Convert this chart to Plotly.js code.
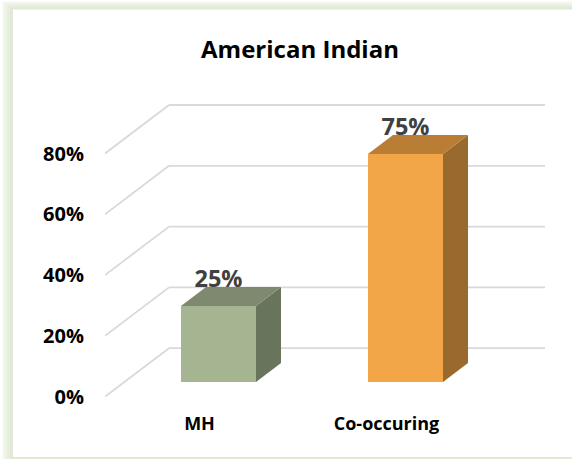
<!DOCTYPE html>
<html><head><meta charset="utf-8">
<script src="https://cdn.plot.ly/plotly-3.0.1.min.js"></script>
<style>html,body{margin:0;padding:0;background:#fff}#c{width:572px;height:459px}</style>
</head><body><div id="c"></div>
<script>
const categories = ['MH', 'Co-occuring'];
const values = [25, 75];
const frontColors = ['#a5b592', '#f3a647'];
const topColors = ['#7e8970', '#b97d36'];
const sideColors = ['#69745c', '#9a692d'];
const yTicks = [0, 20, 40, 60, 80];
const yTickLabels = ['0%', '20%', '40%', '60%', '80%'];
const W = 572, H = 459;
// plot area in pixels
const L = 105, R = 545, T = 100, B = 396.7;
const pxPerUnitY = 3.04, pxPerCat = 187;
const xr = [-(218.5 - L) / pxPerCat, (R - 218.5) / pxPerCat];
const yr = [0, (B - T) / pxPerUnitY];
const barW = 75 / pxPerCat, dx = 25 / pxPerCat, dy = 19 / pxPerUnitY;
const barBase = 14.7 / pxPerUnitY;
const gridDX = 64 / pxPerCat, gridDY = 48.5 / pxPerUnitY;
const traces = [];
// data labels first, so the bar tops overlap their lower edge
traces.push({type: 'scatter', mode: 'text', hoverinfo: 'skip', showlegend: false,
  x: [0, 1], y: values.map(v => barBase + v + 8.2),
  text: values.map(v => v + '%'), textposition: 'middle center',
  textfont: {family: 'Open Sans', size: 23.5, color: '#404040', weight: 700}, cliponaxis: false});
values.forEach((v, i) => {
  const a = i - barW / 2, b = i + barW / 2, y0 = barBase, y1 = barBase + v;
  traces.push({type: 'scatter', mode: 'lines', fill: 'toself', fillcolor: sideColors[i], hoverinfo: 'skip', showlegend: false,
    line: {width: 0, color: sideColors[i]},
    x: [b, b + dx, b + dx, b, b], y: [y0, y0 + dy, y1 + dy, y1, y0]});
  traces.push({type: 'scatter', mode: 'lines', fill: 'toself', fillcolor: topColors[i], hoverinfo: 'skip', showlegend: false,
    line: {width: 0, color: topColors[i]},
    x: [a, a + dx, b + dx, b, a], y: [y1, y1 + dy, y1 + dy, y1, y1]});
});
traces.push({type: 'bar', x: [0, 1], y: values, base: [barBase, barBase], width: barW,
  marker: {color: frontColors, line: {width: 0}}, hoverinfo: 'skip', showlegend: false});
const frame = [[2, 1, '#f7f9f4'], [4, 3, '#eef3e8'], [7, 5, '#e6eedc'], [10, 7, '#dfe9d3']];
const shapes = frame.map(f => ({type: 'rect', xref: 'paper', yref: 'paper', layer: 'below',
  x0: f[0] / W, x1: 1, y0: 0, y1: 1 - f[1] / H, fillcolor: f[2], line: {width: 0}}));
shapes.push({type: 'rect', xref: 'paper', yref: 'paper', layer: 'below', x0: 13 / W, x1: 1, y0: 1 - 457 / H, y1: 1 - 9.5 / H, fillcolor: '#ffffff', line: {width: 0}});
const gridLine = {color: '#d9d9d9', width: 1.8};
yTicks.forEach(t => {
  shapes.push({type: 'line', xref: 'x', yref: 'y', layer: 'below', x0: xr[0], x1: xr[0] + gridDX, y0: t, y1: t + gridDY, line: gridLine});
  shapes.push({type: 'line', xref: 'x', yref: 'y', layer: 'below', x0: xr[0] + gridDX, x1: xr[1], y0: t + gridDY, y1: t + gridDY, line: gridLine});
});
const layout = {
  width: W, height: H, margin: {l: 0, r: 0, t: 0, b: 0}, paper_bgcolor: '#fff', plot_bgcolor: 'rgba(0,0,0,0)',
  showlegend: false, barmode: 'overlay',
  title: {text: 'American Indian', x: 300 / W, xanchor: 'center', y: 1 - 50 / H, yanchor: 'middle',
    font: {family: 'Open Sans', size: 24, color: '#000', weight: 700}},
  xaxis: {domain: [L / W, R / W], range: xr, showgrid: false, zeroline: false, showline: false,
    tickmode: 'array', tickvals: [-19 / pxPerCat, 1 - 19 / pxPerCat], ticktext: categories, ticks: '',
    ticklabelstandoff: 14, tickfont: {family: 'Open Sans', size: 18, color: '#000', weight: 700}},
  yaxis: {domain: [1 - B / H, 1 - T / H], range: yr, showgrid: false, zeroline: false, showline: false,
    tickmode: 'array', tickvals: yTicks, ticktext: yTickLabels, ticks: '',
    ticklabelstandoff: 20, tickfont: {family: 'Open Sans', size: 20, color: '#000', weight: 700}},
  shapes: shapes
};
Plotly.newPlot('c', traces, layout, {displayModeBar: false, staticPlot: true});
</script></body></html>
